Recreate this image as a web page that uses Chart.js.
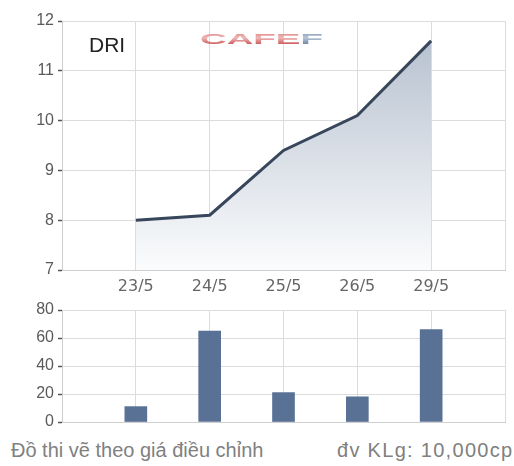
<!DOCTYPE html>
<html>
<head>
<meta charset="utf-8">
<script src="https://cdn.jsdelivr.net/npm/chart.js@4/dist/chart.umd.min.js"></script>
<style>
html,body{margin:0;padding:0;background:#fff;}
#wrap{position:relative;width:514px;height:466px;overflow:hidden;background:#fff;}
#c1{position:absolute;left:0;top:0;}
#c2{position:absolute;left:0;top:300px;}
.foot{position:absolute;top:439px;font-family:"Liberation Sans",Arial,sans-serif;font-size:20px;line-height:23px;color:#808080;white-space:nowrap;}
</style>
</head>
<body>
<div id="wrap">
<canvas id="c1" width="514" height="300"></canvas>
<canvas id="c2" width="514" height="126"></canvas>
<div class="foot" style="left:11px;">Đồ thi vẽ theo giá điều chỉnh</div>
<div class="foot" style="left:337px;letter-spacing:1.3px;">đv KLg: 10,000cp</div>
</div>
<script>
const categories = ['23/5', '24/5', '25/5', '26/5', '29/5'];
const prices = [8.0, 8.1, 9.4, 10.1, 11.6];
const volumes = [11, 65, 21, 18, 66];
const priceTicks = [7, 8, 9, 10, 11, 12];
const volumeTicks = [0, 20, 40, 60, 80];
const symbol = 'DRI';
const logoText = 'CAFEF';

const gridColor = '#dcdcdc';
const tickFontY = {family: '"Liberation Sans", Arial, sans-serif', size: 16};
const tickFontX = {family: '"DejaVu Sans", Verdana, sans-serif', size: 16};

function fixedWidth(w){ return function(s){ s.width = w; s.paddingTop = 0; s.paddingBottom = 0; }; }
function fixedHeight(h){ return function(s){ s.height = h; s.paddingLeft = 0; s.paddingRight = 0; }; }

const overlay = {
  id: 'overlay',
  afterDraw(chart){
    const ctx = chart.ctx;
    ctx.save();
    ctx.fillStyle = '#222';
    ctx.font = '21px "Liberation Sans", Arial, sans-serif';
    ctx.textBaseline = 'alphabetic';
    ctx.fillText(symbol, 89, 52);
    // logo
    ctx.font = 'bold 17px "Liberation Sans", Arial, sans-serif';
    const main = logoText.slice(0, 4), last = logoText.slice(4);
    const wMain = ctx.measureText(main).width, wLast = ctx.measureText(last).width;
    const sx = 123 / (wMain + wLast);
    ctx.translate(200, 44);
    ctx.scale(sx, 0.9);
    const g = ctx.createLinearGradient(0, -14, 0, 0);
    g.addColorStop(0, '#d97a7a');
    g.addColorStop(0.5, '#f0b8b8');
    g.addColorStop(1, '#cc5f5f');
    ctx.fillStyle = g;
    ctx.fillText(main, 0, 0);
    const g2 = ctx.createLinearGradient(0, -14, 0, 0);
    g2.addColorStop(0, '#7f95b3');
    g2.addColorStop(0.5, '#b9c6d6');
    g2.addColorStop(1, '#7289a8');
    ctx.fillStyle = g2;
    ctx.fillText(last, wMain, 0);
    ctx.restore();
  }
};

new Chart(document.getElementById('c1'), {
  type: 'line',
  data: {
    datasets: [{
      data: prices.map((v, i) => ({x: i + 1, y: v})),
      borderColor: '#37465b',
      borderWidth: 3,
      pointRadius: 0,
      tension: 0,
      fill: 'start',
      backgroundColor: function(ctx){
        const a = ctx.chart.chartArea;
        if (!a) return 'rgba(180,192,208,0.6)';
        const g = ctx.chart.ctx.createLinearGradient(0, a.top, 0, a.bottom);
        g.addColorStop(0, '#b2bdcc');
        g.addColorStop(1, '#fbfcfd');
        return g;
      }
    }]
  },
  options: {
    responsive: false,
    animation: false,
    layout: {padding: {top: 21, right: 9, left: 0, bottom: 0}},
    plugins: {legend: {display: false}, tooltip: {enabled: false}},
    scales: {
      x: {
        type: 'linear', min: 0, max: 6,
        afterFit: fixedHeight(30),
        afterBuildTicks(s){ s.ticks = [0,1,2,3,4,5,6].map(v => ({value: v})); },
        grid: {color: gridColor, drawTicks: false},
        border: {color: '#cfcfcf'},
        ticks: {
          padding: 7, color: '#666', font: tickFontX, maxRotation: 0, autoSkip: false,
          callback: v => (v >= 1 && v <= categories.length) ? categories[v - 1] : ''
        }
      },
      y: {
        min: 7, max: 12,
        afterFit: fixedWidth(62),
        afterBuildTicks(s){ s.ticks = priceTicks.map(v => ({value: v})); },
        grid: {color: gridColor, tickColor: '#555', tickLength: 4, tickWidth: 1.5},
        border: {color: '#cfcfcf'},
        ticks: {padding: 4, color: '#5a5a5a', font: tickFontY}
      }
    }
  },
  plugins: [overlay]
});

new Chart(document.getElementById('c2'), {
  type: 'bar',
  data: {
    datasets: [{
      data: volumes.map((v, i) => ({x: i + 1, y: v})),
      backgroundColor: '#5a7196',
      barThickness: 22
    }]
  },
  options: {
    responsive: false,
    animation: false,
    layout: {padding: {top: 10, right: 9, left: 0, bottom: 4}},
    plugins: {legend: {display: false}, tooltip: {enabled: false}},
    scales: {
      x: {
        type: 'linear', min: 0, max: 6, offset: false,
        afterFit: fixedHeight(0),
        afterBuildTicks(s){ s.ticks = [0,1,2,3,4,5,6].map(v => ({value: v})); },
        grid: {color: gridColor, drawTicks: false, offset: false},
        border: {color: '#cfcfcf'},
        ticks: {display: false}
      },
      y: {
        min: 0, max: 80,
        afterFit: fixedWidth(62),
        afterBuildTicks(s){ s.ticks = volumeTicks.map(v => ({value: v})); },
        grid: {color: gridColor, tickColor: '#555', tickLength: 4, tickWidth: 1.5},
        border: {color: '#cfcfcf'},
        ticks: {padding: 4, color: '#5a5a5a', font: tickFontY}
      }
    }
  }
});
</script>
</body>
</html>
